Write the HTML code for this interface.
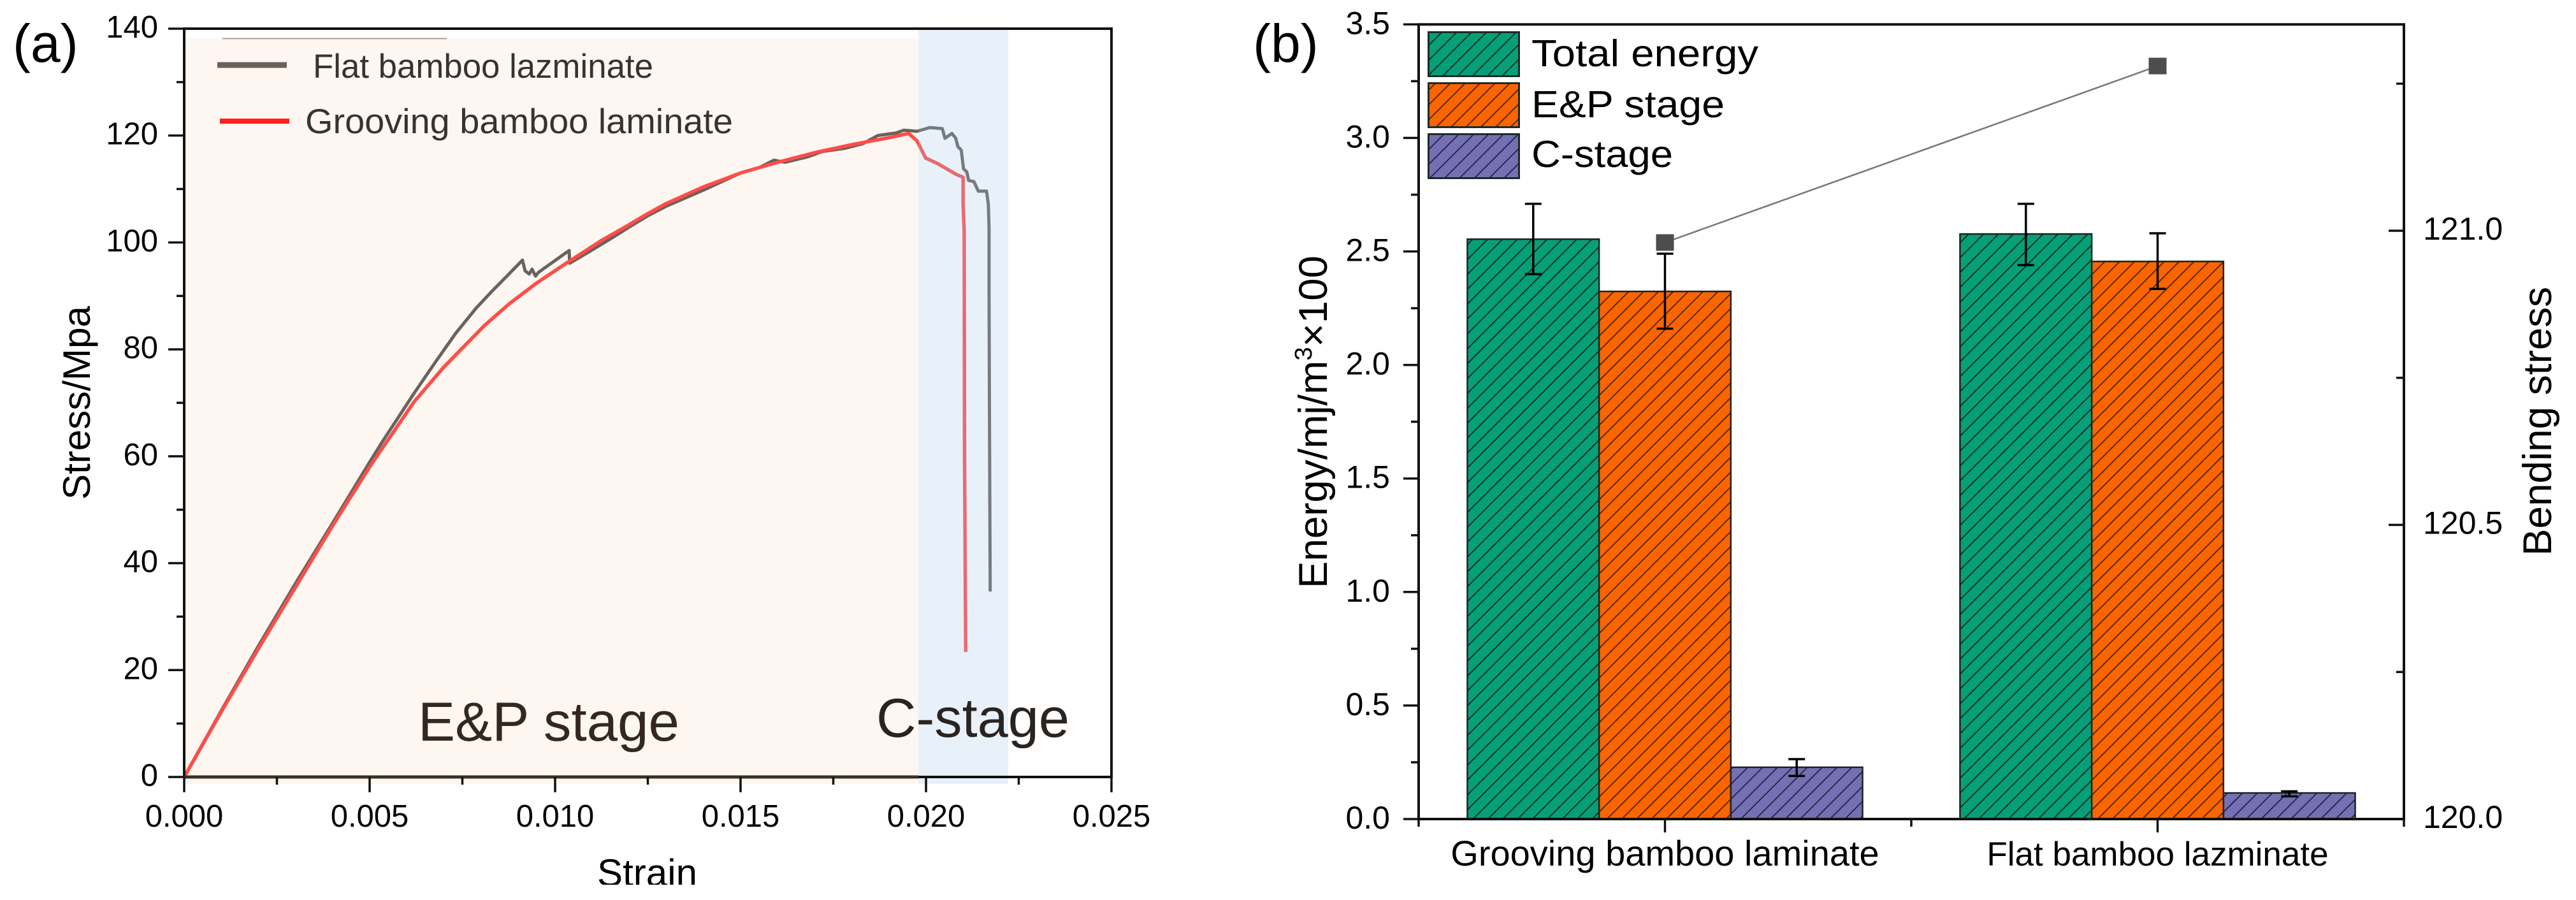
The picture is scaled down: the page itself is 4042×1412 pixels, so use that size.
<!DOCTYPE html>
<html lang="en">
<head>
<meta charset="utf-8">
<title>Stress-strain curves and energy bars</title>
<style>
html,body{margin:0;padding:0;background:#fff;width:4042px;height:1412px;overflow:hidden}
svg{display:block}
text{font-family:"Liberation Sans",Arial,sans-serif;fill:#000}
</style>
</head>
<body>
<svg id="figure" xmlns="http://www.w3.org/2000/svg" width="4042" height="1412" viewBox="0 0 4042 1412">
  <defs>
    <pattern id="hatch-green" patternUnits="userSpaceOnUse" width="16.5" height="16.5" patternTransform="rotate(45)">
      <rect width="16.5" height="16.5" fill="#06a078"/><rect x="1" width="2" height="16.5" fill="#06352a"/>
    </pattern>
    <pattern id="hatch-orange" patternUnits="userSpaceOnUse" width="16.5" height="16.5" patternTransform="rotate(45)">
      <rect width="16.5" height="16.5" fill="#fb6500"/><rect x="1" width="2" height="16.5" fill="#5a2a08"/>
    </pattern>
    <pattern id="hatch-purple" patternUnits="userSpaceOnUse" width="16.5" height="16.5" patternTransform="rotate(45)">
      <rect width="16.5" height="16.5" fill="#7570b3"/><rect x="1" width="2" height="16.5" fill="#2a2850"/>
    </pattern>
  </defs>

  <g id="panel-a">
    <rect x="291" y="60" width="1150" height="1170" fill="#fef6f0"/>
    <g id="a-series"></g>
    <rect x="1441" y="47" width="141" height="1183" fill="rgb(162,198,235)" fill-opacity="0.247"/>
    <g id="a-axes"></g>
    <line x1="349" y1="60.5" x2="701" y2="60.5" stroke="#a89f98" stroke-width="2"/>
    <line x1="341" y1="102" x2="450" y2="102" stroke="#6b5f5a" stroke-width="9"/>
    <text x="491" y="122" font-size="53" textLength="534" lengthAdjust="spacingAndGlyphs" style="fill:#3a322c">Flat bamboo lazminate</text>
    <line x1="345" y1="190" x2="454" y2="190" stroke="#ff2020" stroke-width="8"/>
    <text x="479" y="209" font-size="55" textLength="671" lengthAdjust="spacingAndGlyphs" style="fill:#3a322c">Grooving bamboo laminate</text>
    <text x="656" y="1162" font-size="86" textLength="410" lengthAdjust="spacingAndGlyphs" style="fill:#33271f">E&amp;P stage</text>
    <text x="1375" y="1156" font-size="86" textLength="303" lengthAdjust="spacingAndGlyphs" style="fill:#2a2420">C-stage</text>
    <text transform="translate(141,784) rotate(-90)" font-size="60" textLength="304" lengthAdjust="spacingAndGlyphs">Stress/Mpa</text>
    <text x="937" y="1390" font-size="60" textLength="157" lengthAdjust="spacingAndGlyphs">Strain</text>
    <text x="20" y="97" font-size="84">(a)</text>
  </g>

  <g id="panel-b">
    <g id="b-bars"></g>
    <g id="b-errors"></g>
    <g id="b-line"></g>
    <g id="b-axes"></g>
    <rect x="2241.5" y="50.5" width="142" height="69" fill="url(#hatch-green)" stroke="#1c2b26" stroke-width="3"/>
    <rect x="2241.5" y="130.5" width="142" height="69" fill="url(#hatch-orange)" stroke="#1c2b26" stroke-width="3"/>
    <rect x="2241.5" y="210.5" width="142" height="69" fill="url(#hatch-purple)" stroke="#1c2b26" stroke-width="3"/>
    <text x="2403" y="104" font-size="59" textLength="356" lengthAdjust="spacingAndGlyphs">Total energy</text>
    <text x="2403" y="184" font-size="59" textLength="303" lengthAdjust="spacingAndGlyphs">E&amp;P stage</text>
    <text x="2403" y="262" font-size="59" textLength="222" lengthAdjust="spacingAndGlyphs">C-stage</text>
    <text transform="translate(2082,923) rotate(-90)" font-size="63" textLength="522" lengthAdjust="spacingAndGlyphs">Energy/mj/m<tspan font-size="38" dy="-24">3</tspan><tspan dy="24">×100</tspan></text>
    <text transform="translate(4003,872) rotate(-90)" font-size="63" textLength="422" lengthAdjust="spacingAndGlyphs">Bending stress</text>
    <text x="1966" y="97" font-size="84">(b)</text>
  </g>
  <rect x="0" y="1388" width="4042" height="24" fill="#fff"/>
</svg>

<script>
// ---- Panel (a) data ----
const strainFlat = [0,0.001,0.002,0.003,0.004,0.005,0.00534,0.0062,0.00679,0.00732,0.00787,0.0083,0.0087,0.00912,0.00919,0.0093,0.00938,0.00947,0.00955,0.01038,0.01039,0.011,0.0115,0.012,0.0125,0.013,0.0135,0.014,0.0145,0.015,0.0155,0.0159,0.0162,0.0168,0.0172,0.0178,0.0183,0.0187,0.0192,0.0194,0.01976,0.0201,0.02044,0.02051,0.0207,0.0208,0.02086,0.02095,0.02101,0.0211,0.02115,0.02129,0.02141,0.02163,0.02168,0.0217,0.0217,0.02171,0.02173];
const stressFlat = [0,12.4,24.5,36.2,47.5,58.9,62.7,71.8,77.8,83,87.7,90.9,93.7,96.7,94.7,94.1,95,93.7,94.4,98.5,96.1,98.6,100.7,102.9,105,106.8,108.3,109.8,111.4,113,114,115.4,115,116,117,117.6,118.5,120,120.5,121,120.8,121.5,121.3,119.5,120.4,119.5,117.9,117.3,113.8,113.2,111.6,111.4,109.6,109.6,107.2,102.8,91.7,70,34.7];
const strainGrooving = [0,0.001,0.002,0.003,0.004,0.005,0.00534,0.0062,0.00699,0.0081,0.00876,0.00948,0.01034,0.01126,0.01192,0.0125,0.013,0.014,0.015,0.016,0.017,0.018,0.019,0.01953,0.01976,0.01999,0.02033,0.0208,0.021,0.021,0.02103,0.02104,0.02107];
const stressGrooving = [0,12.2,24,35.5,47,58,61.5,70.2,76.6,84.5,88.5,92.3,96.3,100.4,103,105.4,107.3,110.4,113,115,116.8,118.3,119.6,120.4,119,115.8,114.7,112.8,112.2,107.2,102,59.4,23.4];
const xMajorA = [0,0.005,0.010,0.015,0.020,0.025];
const xMajorLabelsA = ["0.000","0.005","0.010","0.015","0.020","0.025"];
const xMinorA = [0.0025,0.0075,0.0125,0.0175,0.0225];
const yMajorA = [0,20,40,60,80,100,120,140];
const yMinorA = [10,30,50,70,90,110,130];

// ---- Panel (b) data ----
const categories = ["Grooving bamboo laminate","Flat bamboo lazminate"];
const categoryPositions = [1,2];
const totalEnergy = [2.554,2.577];
const totalEnergyLow = [2.40,2.44];
const totalEnergyHigh = [2.71,2.71];
const epStage = [2.324,2.456];
const epStageLow = [2.16,2.335];
const epStageHigh = [2.49,2.58];
const cStage = [0.228,0.115];
const cStageLow = [0.19,0.10];
const cStageHigh = [0.264,0.122];
const bendingStress = [120.98,121.28];
const yMajorB = [0,0.5,1,1.5,2,2.5,3,3.5];
const yMajorLabelsB = ["0.0","0.5","1.0","1.5","2.0","2.5","3.0","3.5"];
const yMinorB = [0.25,0.75,1.25,1.75,2.25,2.75,3.25];
const yMajorR = [120,120.5,121];
const yMajorLabelsR = ["120.0","120.5","121.0"];
const yMinorR = [120.25,120.75,121.25];

// ---- Axis functions ----
function xA(v){return 289+v*58200;}
function yA(v){return 1219-v*8.386;}
function xB(c){return 2226+(c-0.5)*773;}
function yB(v){return 1285-v*356.2;}
function yR(v){return 1285-(v-120)*923;}

const NS = "http://www.w3.org/2000/svg";
function svgEl(tag, parent, attrs){
  const n = document.createElementNS(NS, tag);
  for(const k in attrs){n.setAttribute(k, attrs[k]);}
  parent.appendChild(n);
  return n;
}
function pathFrom(xs, ys, fx, fy){
  return xs.map(function(v,i){return (i?"L":"M")+fx(v).toFixed(1)+" "+fy(ys[i]).toFixed(1);}).join(" ");
}

const aSeries = document.getElementById("a-series");
const aAxes = document.getElementById("a-axes");
const bBars = document.getElementById("b-bars");
const bErrors = document.getElementById("b-errors");
const bLine = document.getElementById("b-line");
const bAxes = document.getElementById("b-axes");
let el;

// ---- Panel (a) curves ----
el = svgEl("path", aSeries, {d:pathFrom(strainFlat,stressFlat,xA,yA),fill:"none",stroke:"#6a625c","stroke-width":5,"stroke-linejoin":"round"});


el = svgEl("path", aSeries, {d:pathFrom(strainGrooving,stressGrooving,xA,yA),fill:"none",stroke:"#ff4d4a","stroke-width":5.5,"stroke-linejoin":"round"});



// ---- Panel (a) axes ----
el = svgEl("rect", aAxes, {x:xA(0),y:yA(140),width:xA(0.025)-xA(0),height:yA(0)-yA(140),fill:"none",stroke:"#111","stroke-width":4});


el = svgEl("line", aAxes, {x1:xA(0),y1:yA(0),x2:xA(0.0198),y2:yA(0),stroke:"#3a3028","stroke-width":5});



xMajorA.forEach(function(v,i){
  el = svgEl("line", aAxes, {x1:xA(v),y1:yA(0),x2:xA(v),y2:yA(0)+24,stroke:"#111","stroke-width":3.5});
  
  
  el = svgEl("text", aAxes, {x:xA(v),y:1297,"font-size":49,"text-anchor":"middle"});
  el.textContent = xMajorLabelsA[i];
  
  
});
xMinorA.forEach(function(v){
  el = svgEl("line", aAxes, {x1:xA(v),y1:yA(0),x2:xA(v),y2:yA(0)+12,stroke:"#111","stroke-width":3.5});
  
  
});
yMajorA.forEach(function(v){
  el = svgEl("line", aAxes, {x1:xA(0)-25,y1:yA(v),x2:xA(0),y2:yA(v),stroke:"#111","stroke-width":3.5});
  
  
  el = svgEl("text", aAxes, {x:248,y:yA(v)+14,"font-size":49,"text-anchor":"end"});
  el.textContent = String(v);
  
  
});
yMinorA.forEach(function(v){
  el = svgEl("line", aAxes, {x1:xA(0)-12,y1:yA(v),x2:xA(0),y2:yA(v),stroke:"#111","stroke-width":3.5});
  
  
});

// ---- Panel (b) bars ----
const barWidth = 206.7;
function drawBars(values, low, high, offset, hatch, barName, errName){
  values.forEach(function(v,i){
    const cx = xB(categoryPositions[i]) + offset*barWidth;
    el = svgEl("rect", bBars, {x:cx-barWidth/2,y:yB(v),width:barWidth,height:yB(0)-yB(v),fill:"url(#"+hatch+")",stroke:"#1c2420","stroke-width":2.5});
    
    
    el = svgEl("path", bErrors, {d:"M"+(cx-13)+" "+yB(high[i])+"H"+(cx+13)+"M"+cx+" "+yB(high[i])+"V"+yB(low[i])+"M"+(cx-13)+" "+yB(low[i])+"H"+(cx+13),fill:"none",stroke:"#000","stroke-width":3.5});
    
    
  });
}
drawBars(totalEnergy,totalEnergyLow,totalEnergyHigh,-1,"hatch-green","bar-total-energy","error-bar-total-energy");
drawBars(epStage,epStageLow,epStageHigh,0,"hatch-orange","bar-ep-stage","error-bar-ep-stage");
drawBars(cStage,cStageLow,cStageHigh,1,"hatch-purple","bar-c-stage","error-bar-c-stage");

// ---- Panel (b) bending stress line ----
el = svgEl("path", bLine, {d:pathFrom(categoryPositions,bendingStress,xB,yR),fill:"none",stroke:"#777","stroke-width":2.5});


bendingStress.forEach(function(v,i){
  el = svgEl("rect", bLine, {x:xB(categoryPositions[i])-14,y:yR(v)-13,width:28,height:26,fill:"#4d4d4d"});
  
  
});

// ---- Panel (b) axes ----
el = svgEl("rect", bAxes, {x:xB(0.5),y:yB(3.5),width:xB(2.5)-xB(0.5),height:yB(0)-yB(3.5),fill:"none",stroke:"#111","stroke-width":4});


yMajorB.forEach(function(v,i){
  el = svgEl("line", bAxes, {x1:xB(0.5)-24,y1:yB(v),x2:xB(0.5),y2:yB(v),stroke:"#111","stroke-width":3.5});
  
  
  el = svgEl("text", bAxes, {x:2181,y:yB(v)+15,"font-size":50,"text-anchor":"end"});
  el.textContent = yMajorLabelsB[i];
  
  
});
yMinorB.forEach(function(v){
  el = svgEl("line", bAxes, {x1:xB(0.5)-12,y1:yB(v),x2:xB(0.5),y2:yB(v),stroke:"#111","stroke-width":3.5});
  
  
});
yMajorR.forEach(function(v,i){
  el = svgEl("line", bAxes, {x1:xB(2.5)-24,y1:yR(v),x2:xB(2.5),y2:yR(v),stroke:"#111","stroke-width":3.5});
  
  
  el = svgEl("text", bAxes, {x:3802,y:yR(v)+14,"font-size":50});
  el.textContent = yMajorLabelsR[i];
  
  
});
yMinorR.forEach(function(v){
  el = svgEl("line", bAxes, {x1:xB(2.5)-12,y1:yR(v),x2:xB(2.5),y2:yR(v),stroke:"#111","stroke-width":3.5});
  
  
});
categoryPositions.forEach(function(c,i){
  el = svgEl("line", bAxes, {x1:xB(c),y1:yB(0),x2:xB(c),y2:yB(0)+21,stroke:"#111","stroke-width":3.5});
  
  
  el = svgEl("text", bAxes, {x:xB(c),y:1358,"font-size":i===0?56:53,"text-anchor":"middle"});
  el.textContent = categories[i];
  
  
});
[0.5,1.5,2.5].forEach(function(c){
  el = svgEl("line", bAxes, {x1:xB(c),y1:yB(0),x2:xB(c),y2:yB(0)+12,stroke:"#111","stroke-width":3.5});
  
  
});
</script>
</body>
</html>
